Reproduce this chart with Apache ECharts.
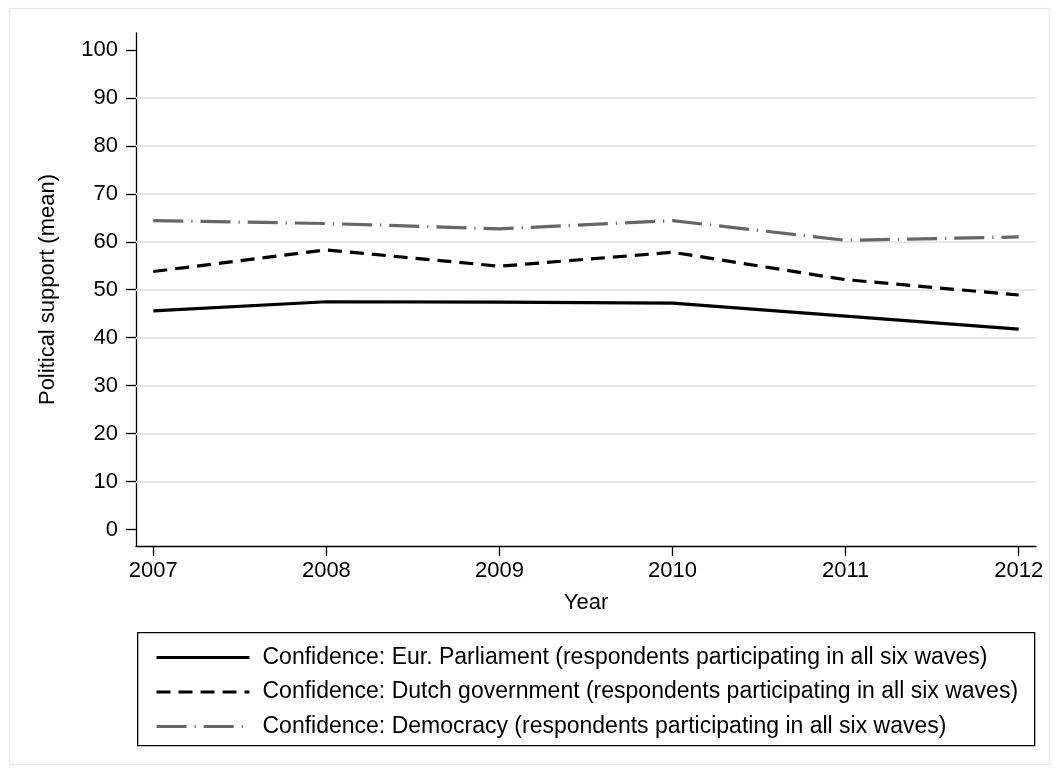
<!DOCTYPE html>
<html>
<head>
<meta charset="utf-8">
<script src="https://cdn.jsdelivr.net/npm/echarts@6/dist/echarts.min.js"></script>
<style>
  html, body { margin: 0; padding: 0; background: #fff; }
  #chart { width: 1054px; height: 769px; }
</style>
</head>
<body>
<div id="chart"></div>
<script>
// Survey years and mean political support per indicator (panel respondents)
const years = [2007, 2008, 2009, 2010, 2011, 2012];
const eurParliament = [45.6, 47.5, 47.4, 47.2, 44.5, 41.8];
const dutchGovernment = [53.8, 58.3, 54.9, 57.8, 52.1, 48.9];
const democracy = [64.4, 63.8, 62.7, 64.4, 60.3, 61.0];

const yTicks = [0, 10, 20, 30, 40, 50, 60, 70, 80, 90, 100];
const gridValues = [10, 20, 30, 40, 50, 60, 70, 80, 90];

const seriesNames = [
  'Confidence: Eur. Parliament (respondents participating in all six waves)',
  'Confidence: Dutch government (respondents participating in all six waves)',
  'Confidence: Democracy (respondents participating in all six waves)'
];

const FONT = 'Liberation Sans, Arial, Helvetica, sans-serif';
const pairs = vals => years.map((y, i) => [y, vals[i]]);

const chart = echarts.init(document.getElementById('chart'), null, { renderer: 'canvas' });

chart.setOption({
  animation: false,
  backgroundColor: '#ffffff',
  textStyle: { fontFamily: FONT },
  graphic: [
    { // outer frame
      type: 'rect', left: 7, top: 6, z: -10,
      shape: { width: 1040, height: 756 },
      style: { fill: 'none', stroke: '#ebebeb', lineWidth: 1.5 }
    },
    { // legend box
      type: 'rect', left: 137, top: 632, z: -5,
      shape: { width: 897, height: 113 },
      style: { fill: '#fff', stroke: '#000', lineWidth: 1.3 }
    }
  ],
  grid: { left: 136, right: 18, top: 33, bottom: 223, containLabel: false },
  xAxis: {
    type: 'value',
    min: 2006.9, max: 2012.1,
    name: 'Year', nameLocation: 'middle', nameGap: 46,
    nameTextStyle: { fontSize: 22, color: '#000', fontFamily: FONT },
    axisLine: { show: true, onZero: false, lineStyle: { color: '#000', width: 1.3 } },
    axisTick: { show: true, length: 10, customValues: years, lineStyle: { color: '#000', width: 1.3 } },
    axisLabel: {
      customValues: years, margin: 14, fontSize: 22, color: '#000', fontFamily: FONT,
      formatter: v => String(v)
    },
    splitLine: { show: false }
  },
  yAxis: {
    type: 'value',
    min: -3.4, max: 103.5,
    name: 'Political support (mean)', nameLocation: 'middle', nameGap: 77, nameRotate: 90,
    nameTextStyle: { fontSize: 22, color: '#000', fontFamily: FONT },
    axisLine: { show: true, onZero: false, lineStyle: { color: '#000', width: 1.3 } },
    axisTick: { show: true, length: 10, customValues: yTicks, lineStyle: { color: '#000', width: 1.3 } },
    axisLabel: {
      customValues: yTicks, margin: 18, fontSize: 22, color: '#000', fontFamily: FONT,
      formatter: v => String(v)
    },
    splitLine: { show: false }
  },
  legend: {
    orient: 'vertical',
    left: 150, top: 641,
    itemWidth: 93, itemHeight: 14, itemGap: 11.5,
    data: seriesNames,
    itemStyle: { opacity: 0 },
    lineStyle: { width: 3, opacity: 1 },
    textStyle: { fontSize: 23, color: '#000', fontFamily: FONT, padding: [0, 0, 0, 8] },
    selectedMode: false
  },
  series: [
    { // horizontal reference lines
      type: 'line', data: [], silent: true, z: 1,
      markLine: {
        silent: true, symbol: 'none', animation: false,
        label: { show: false },
        lineStyle: { color: '#e8e8e8', width: 2, type: 'solid' },
        data: gridValues.map(v => ({ yAxis: v }))
      }
    },
    {
      name: seriesNames[0], type: 'line', z: 5,
      data: pairs(eurParliament), showSymbol: false, symbol: 'none',
      lineStyle: { color: '#000', width: 3.2, type: 'solid' },
      itemStyle: { color: '#000' }
    },
    {
      name: seriesNames[1], type: 'line', z: 5,
      data: pairs(dutchGovernment), showSymbol: false, symbol: 'none',
      lineStyle: { color: '#000', width: 3.2, type: [14, 8] },
      itemStyle: { color: '#000' }
    },
    {
      name: seriesNames[2], type: 'line', z: 5,
      data: pairs(democracy), showSymbol: false, symbol: 'none',
      lineStyle: { color: '#666', width: 3.2, type: [30, 8, 1.2, 8] },
      itemStyle: { color: '#666' }
    }
  ]
});
</script>
</body>
</html>
